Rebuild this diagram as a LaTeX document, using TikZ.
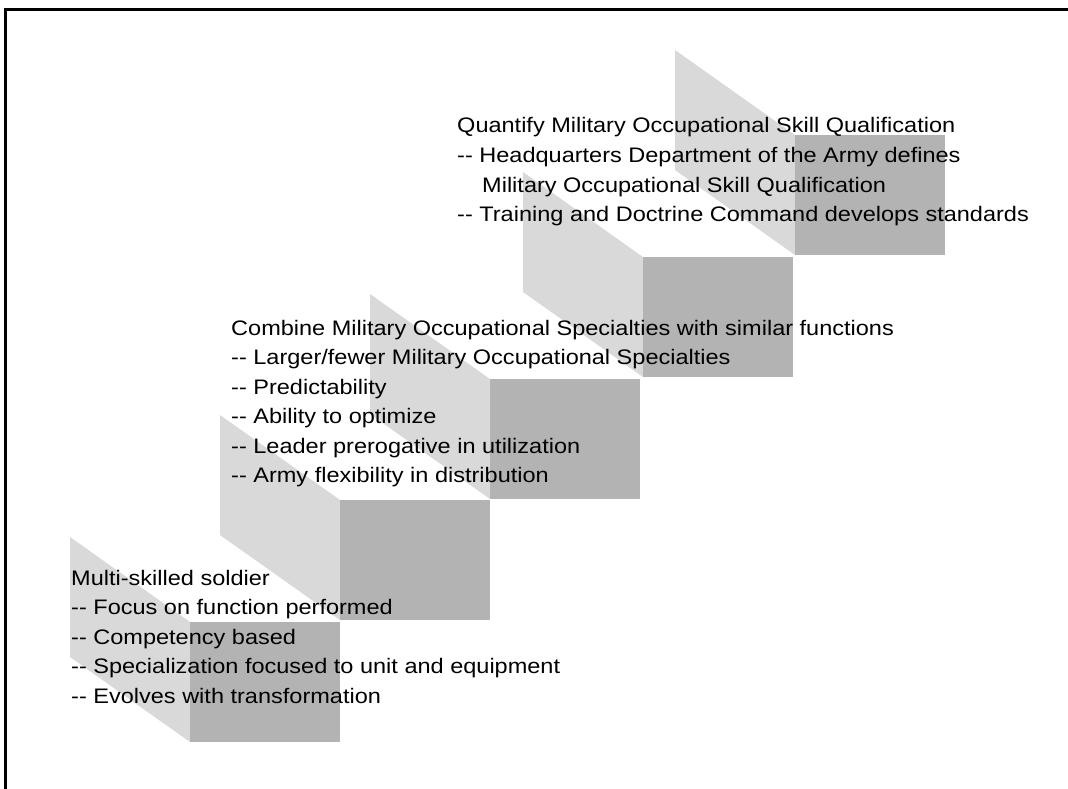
\documentclass[tikz,border=0pt]{standalone}
\usepackage{fontspec}
\setmainfont[FakeStretch=1.12]{Liberation Sans}
\definecolor{lightface}{HTML}{D9D9D9}
\definecolor{darkface}{HTML}{B3B3B3}
\newcommand{\dd}{-{}-}
\begin{document}
\begin{tikzpicture}[x=1pt,y=-1pt,
  lightside/.style={fill=lightface,draw=none},
  darkside/.style={fill=darkface,draw=none},
  txt/.style={anchor=base west,inner sep=0pt,font=\fontsize{21}{29.5}\selectfont,text=black},
  frame/.style={line width=2.8pt,black}]
\useasboundingbox (0,0) rectangle (1068,789);
% frame
\coordinate (fl) at (5.2,789);
\coordinate (fc) at (5.2,9.7);
\coordinate (fr) at (1068,9.7);
\draw[frame] (fl) -- (fc) -- (fr);
% steps
\foreach \n/\lx/\ty in {1/190/622, 2/340/500, 3/490/379, 4/643/257, 5/795/135}{
  \fill[lightside] (\lx-120,\ty-85) -- (\lx,\ty) -- (\lx,\ty+120) -- (\lx-120,\ty+35) -- cycle;
  \fill[darkside] (\lx,\ty) rectangle (\lx+150,\ty+120);
}
% block 1
\node[txt] (a1) at (71,585) {Multi-skilled soldier};
\node[txt] (a2) at (71,614.5) {\dd{} Focus on function performed};
\node[txt] (a3) at (71,644) {\dd{} Competency based};
\node[txt] (a4) at (71,673.5) {\dd{} Specialization focused to unit and equipment};
\node[txt] (a5) at (71,703) {\dd{} Evolves with transformation};
% block 2
\node[txt] (b1) at (231,335) {Combine Military Occupational Specialties with similar functions};
\node[txt] (b2) at (231,364.5) {\dd{} Larger/fewer Military Occupational Specialties};
\node[txt] (b3) at (231,394) {\dd{} Predictability};
\node[txt] (b4) at (231,423.5) {\dd{} Ability to optimize};
\node[txt] (b5) at (231,453) {\dd{} Leader prerogative in utilization};
\node[txt] (b6) at (231,482.5) {\dd{} Army flexibility in distribution};
% block 3
\node[txt] (c1) at (457,133) {Quantify Military Occupational Skill Qualification};
\node[txt] (c2) at (457,162.5) {\dd{} Headquarters Department of the Army defines};
\node[txt] (c3) at (482,192) {Military Occupational Skill Qualification};
\node[txt] (c4) at (457,221.5) {\dd{} Training and Doctrine Command develops standards};
\end{tikzpicture}
\end{document}
